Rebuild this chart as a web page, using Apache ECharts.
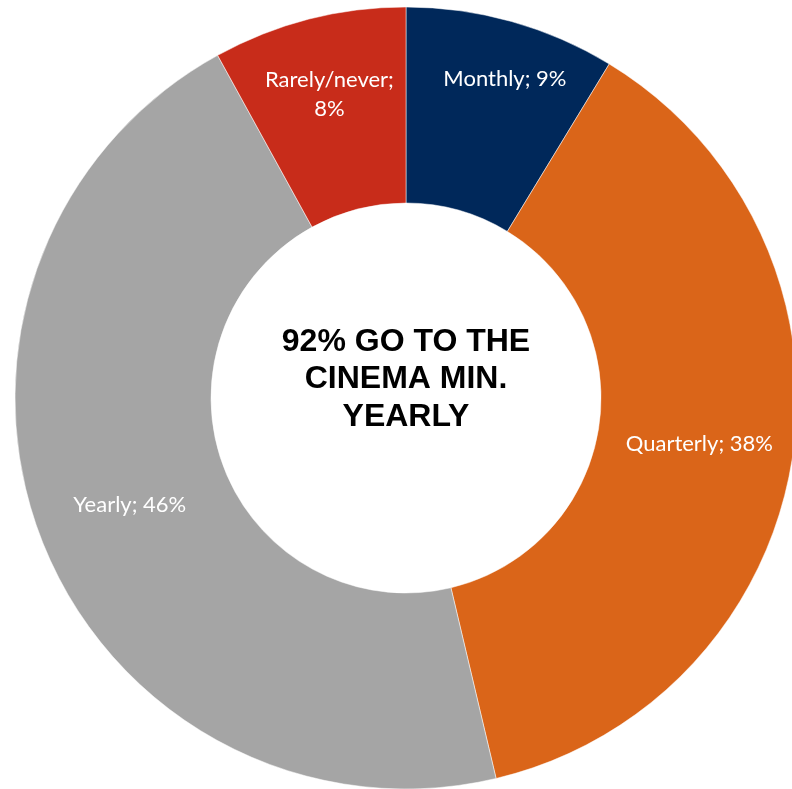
<!DOCTYPE html>
<html><head><meta charset="utf-8">
<script src="https://cdn.jsdelivr.net/npm/echarts@6/dist/echarts.min.js"></script>
<style>html,body{margin:0;padding:0;background:#fff}#c{width:792px;height:789px}</style>
</head><body><div id="c"></div>
<script>
const categories = ['Monthly', 'Quarterly', 'Yearly', 'Rarely/never'];
const values = [8.7, 37.6, 45.7, 8.0];
const colors = ['#00285A', '#DA6519', '#A5A5A5', '#C82C1A'];
const labelBreaks = ['; ', '; ', '; ', ';\n'];
const centerText = '92% GO TO THE\nCINEMA MIN.\nYEARLY';
const labelShift = [[19, -34], [1, 0], [0, 1], [-3, -17]];

const chart = echarts.init(document.getElementById('c'), null, {renderer: 'canvas'});
chart.setOption({
  animation: false,
  graphic: [{
    type: 'text', x: 406, y: 323,
    style: {
      text: centerText, textAlign: 'center', textVerticalAlign: 'top',
      font: 'bold 32px "Liberation Sans", Arial, sans-serif',
      lineHeight: 37.5, fill: '#000'
    }
  }],
  series: [{
    type: 'pie',
    center: [406, 398],
    radius: [195, 391],
    startAngle: 90,
    clockwise: true,
    avoidLabelOverlap: false,
    itemStyle: {borderColor: '#fff', borderWidth: 0.5},
    label: {
      show: true, position: 'inside', color: '#fff',
      fontFamily: 'Lato', fontSize: 22, lineHeight: 29,
      formatter: p => p.name + labelBreaks[p.dataIndex] + Math.round(p.value) + '%'
    },
    labelLayout: p => ({dx: labelShift[p.dataIndex][0], dy: labelShift[p.dataIndex][1]}),
    emphasis: {disabled: true},
    data: categories.map((c, i) => ({name: c, value: values[i], itemStyle: {color: colors[i]}}))
  }]
});
</script></body></html>
